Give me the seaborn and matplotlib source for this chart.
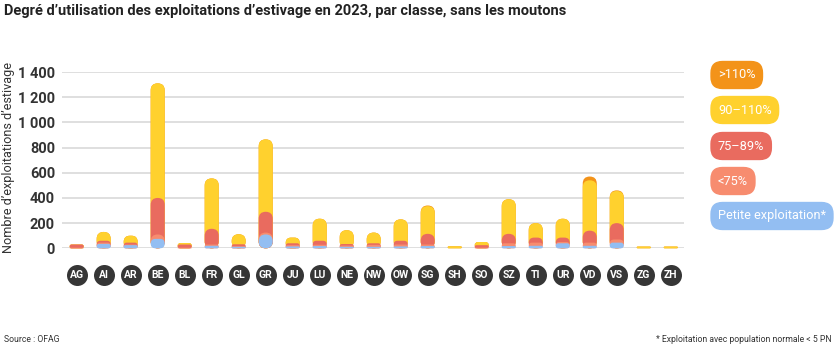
import numpy as np
import pandas as pd
import matplotlib
matplotlib.use("Agg")
import matplotlib.pyplot as plt
import seaborn as sns
from matplotlib.patches import FancyBboxPatch, BoxStyle
import matplotlib.transforms as mtransforms

# ---------------- data ----------------
cantons = ["AG", "AI", "AR", "BE", "BL", "FR", "GL", "GR", "JU", "LU", "NE", "NW",
           "OW", "SG", "SH", "SO", "SZ", "TI", "UR", "VD", "VS", "ZG", "ZH"]
petite = [0, 35, 25, 75, 0, 20, 12, 110, 15, 18, 12, 12, 15, 18, 0, 0, 18, 20, 40, 20, 45, 0, 0]
lt75 = [5, 10, 5, 35, 5, 10, 5, 15, 10, 10, 10, 15, 15, 12, 0, 5, 22, 25, 10, 25, 25, 0, 0]
c75_89 = [25, 15, 15, 290, 25, 125, 15, 165, 15, 32, 12, 13, 30, 85, 0, 20, 75, 40, 35, 95, 130, 0, 0]
c90_110 = [0, 70, 55, 910, 12, 400, 80, 575, 45, 175, 110, 85, 170, 220, 16, 25, 275, 115, 150, 400, 255, 14, 14]
gt110 = [0, 0, 0, 0, 0, 0, 0, 0, 0, 0, 0, 0, 0, 5, 0, 0, 0, 0, 0, 30, 5, 0, 0]

classes = [">110%", "90–110%", "75–89%", "<75%", "Petite exploitation*"]
colors = ["#F39319", "#FFD12E", "#E96B5F", "#F78C6F", "#93BEF2"]

y_ticks = [0, 200, 400, 600, 800, 1000, 1200, 1400]
y_tick_labels = ["0", "200", "400", "600", "800", "1 000", "1 200", "1 400"]

title = "Degré d’utilisation des exploitations d’estivage en 2023, par classe, sans les moutons"
ylabel = "Nombre d’exploitations d’estivage"
source = "Source : OFAG"
note = "* Exploitation avec population normale < 5 PN"

segs = [petite, lt75, c75_89, c90_110, gt110]
cum = np.cumsum(np.array(segs, dtype=float), axis=0)
layers_top_first = [cum[4], cum[3], cum[2], cum[1], cum[0]]

# ---------------- figure ----------------
sns.set_theme(style="white")
plt.rcParams['font.family'] = ['Roboto', 'DejaVu Sans']

W, H = 836, 358
fig = plt.figure(figsize=(W / 100, H / 100), dpi=100)
ax_left, ax_right, ax_bot, ax_top = 62, 684, 248.3, 72
ax = fig.add_axes([ax_left / W, (H - ax_bot) / H, (ax_right - ax_left) / W, (ax_bot - ax_top) / H])

bar_w = 0.52
for vals, col in zip(layers_top_first, colors):
    df = pd.DataFrame({"canton": cantons, "value": vals})
    sns.barplot(data=df, x="canton", y="value", color=col, saturation=1,
                width=bar_w, errorbar=None, ax=ax, order=cantons)

xlim = (-0.544, 22.49)
ylim = (0, 1400)
ax.set_xlim(*xlim)
ax.set_ylim(*ylim)

px_per_x = (ax_right - ax_left) / (xlim[1] - xlim[0])
px_per_y = (ax_bot - ax_top) / (ylim[1] - ylim[0])
aspect = px_per_x / px_per_y
rects = list(ax.patches)
n = len(cantons)
for k, r in enumerate(rects):
    layer = k // n
    x, y = r.get_x(), r.get_y()
    w, h = r.get_width(), r.get_height()
    fc = r.get_facecolor()
    r.remove()
    if h <= 0:
        continue
    rs = min(w / 2, h / (2 * aspect))
    p = FancyBboxPatch((x, y), w, h,
                       boxstyle=BoxStyle.Round(pad=0, rounding_size=rs),
                       mutation_aspect=aspect, fc=fc, ec="none",
                       zorder=3 + layer, clip_on=False)
    ax.add_patch(p)

for t in y_ticks:
    ax.axhline(t, color="#dcdcdc", lw=1.3, zorder=1)
for s in ax.spines.values():
    s.set_visible(False)
ax.grid(False)
ax.set_xlabel("")
ax.set_ylabel("")

ax.set_yticks(y_ticks)
ax.set_yticklabels(y_tick_labels, fontsize=10.5, fontweight="bold", color="#333333")
ax.tick_params(axis="y", length=0, pad=5)

# x tick labels as dark circles
ax.set_xticks(range(n))
ax.set_xticklabels([])
ax.tick_params(axis="x", length=0)
trans = mtransforms.blended_transform_factory(ax.transData, ax.transAxes)
cy = (ax_bot - 274.5) / (ax_bot - ax_top)
ax.scatter(range(n), [cy] * n, s=(21 * 0.72) ** 2, color="#363636", transform=trans,
           clip_on=False, zorder=5, linewidths=0)
for i, c in enumerate(cantons):
    ax.text(i, cy, c, transform=trans, ha="center", va="center_baseline", fontsize=7.5,
            fontweight="bold", color="white", zorder=6, clip_on=False)

renderer = fig.canvas.get_renderer()


def fit(t, target_w):
    fs = t.get_fontsize()
    bb = t.get_window_extent(renderer)
    w = bb.width if t.get_rotation() == 0 else bb.height
    t.set_fontsize(fs * target_w / w)


yl = fig.text(9 / W, 1 - 158 / H, ylabel, rotation=90, ha="center", va="center",
              fontsize=9, color="#333333")
fit(yl, 192)

tt = fig.text(4 / W, 1 - 11 / H, title, ha="left", va="center", fontsize=11,
              fontweight="bold", color="#222222")
fit(tt, 562)

st = fig.text(4 / W, 1 - 339 / H, source, ha="left", va="center", fontsize=7, color="#333333")
fit(st, 55)
nt = fig.text(832 / W, 1 - 339 / H, note, ha="right", va="center", fontsize=7, color="#333333")
fit(nt, 176)

leg_y = [75, 110, 146, 181, 216]
for lab, col, yy in zip(classes, colors, leg_y):
    t = fig.text(718 / W, 1 - yy / H, lab, ha="left", va="center", fontsize=9.2, color="white")
    t.set_bbox(dict(boxstyle="round,pad=0.6,rounding_size=0.95", fc=col, ec="none"))

fig.savefig("out.png", dpi=100)
